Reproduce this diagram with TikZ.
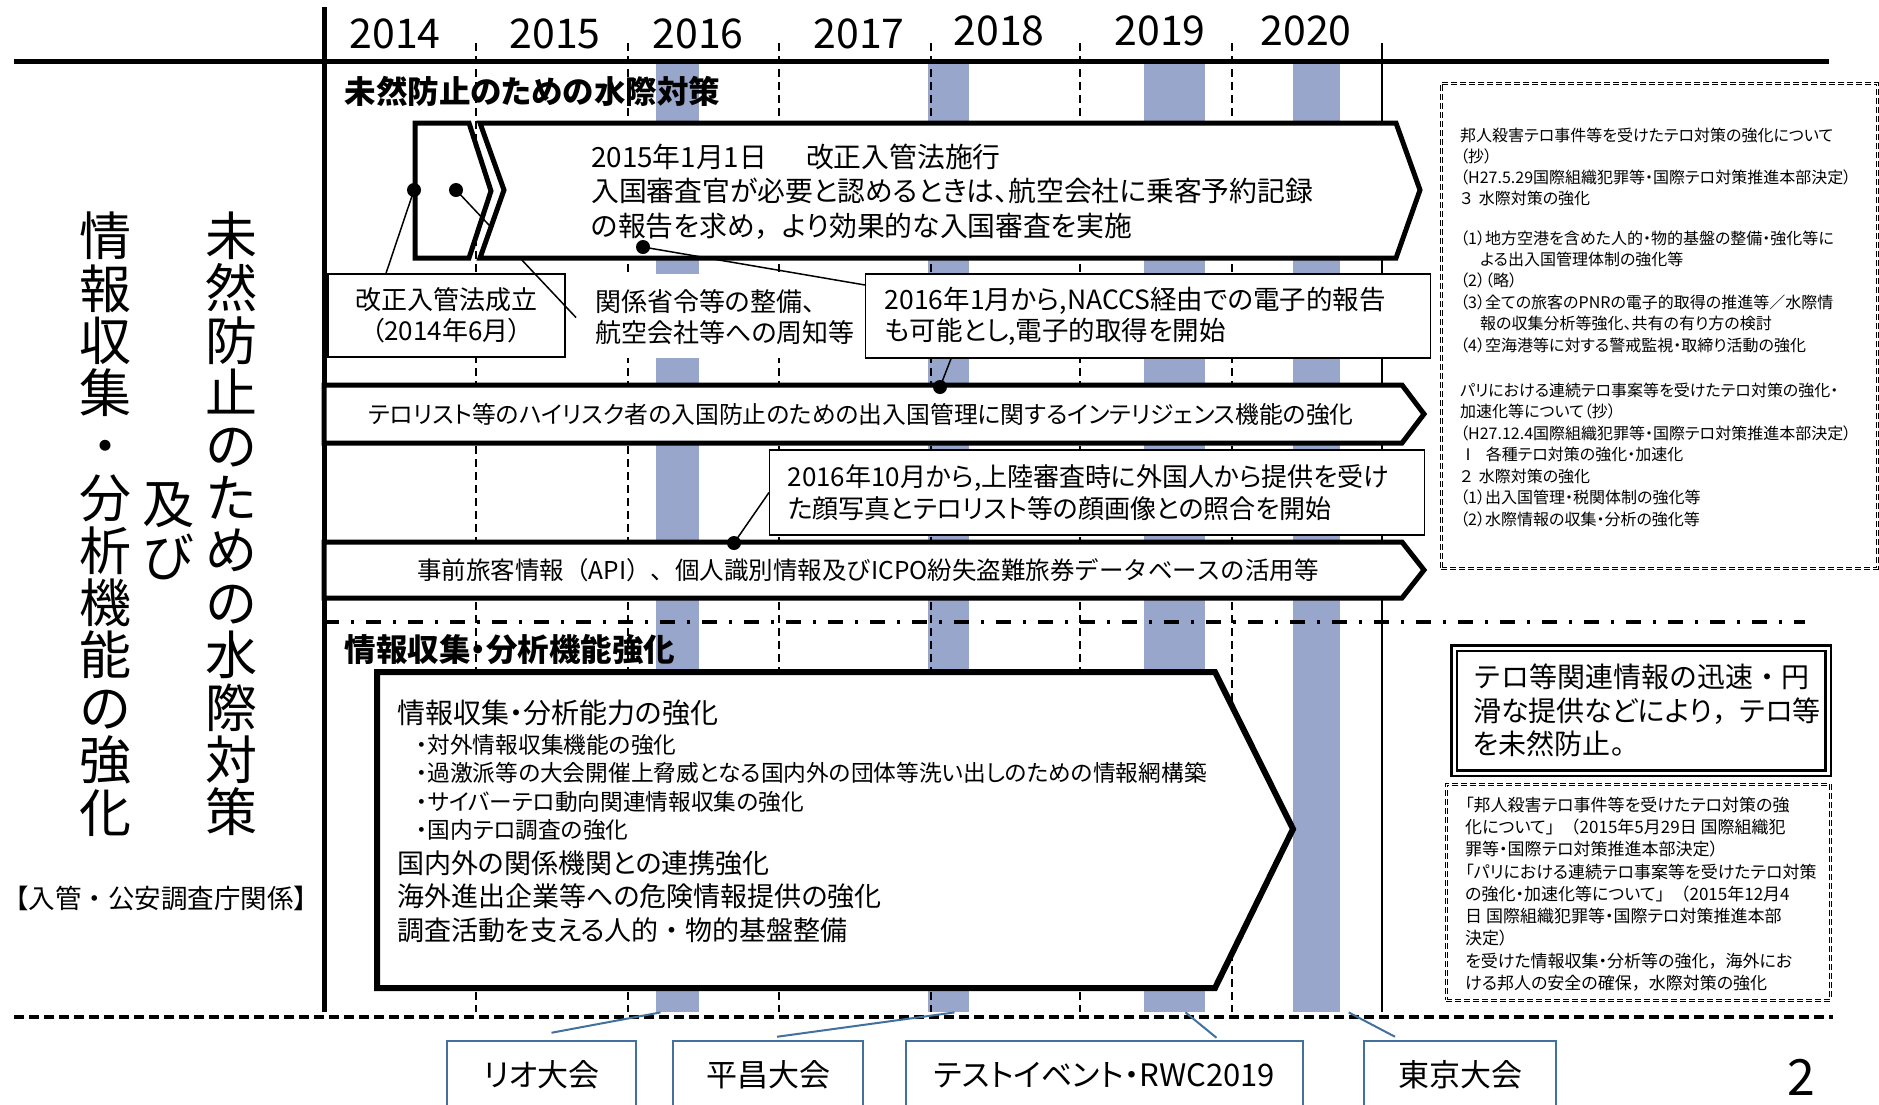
\documentclass[tikz,border=0pt]{standalone}
\usepackage{fontspec}
\setmainfont{Noto Sans CJK JP}[RawFeature=+palt]
\newfontfamily\jpm{Noto Sans CJK JP}
\usetikzlibrary{calc}
\definecolor{hatch}{RGB}{152,166,204}
\definecolor{evblue}{RGB}{65,113,156}
\newcommand\fs[2]{\fontsize{#1}{#2}\selectfont}
\begin{document}
\begin{tikzpicture}[x=1pt,y=-1pt,
  thickshape/.style={draw=black, fill=white, line width=5pt, line join=miter},
  thinbox/.style={draw=black, fill=white, line width=1.4pt},
  yrdash/.style={line width=1.3pt, dash pattern=on 8pt off 5pt},
  col/.style={fill=hatch, draw=none, inner sep=0pt, minimum width=#1, minimum height=948, anchor=north},
  dot/.style={circle, fill=black, inner sep=0pt, minimum size=14pt},
  conn/.style={line width=1.5pt},
  evbox/.style={draw=evblue, line width=2.5pt, fill=white, inner ysep=0pt, text height=45pt, text depth=40pt, anchor=base, font=\fs{31}{31}},
  evline/.style={draw=evblue, line width=2pt},
  ddash/.style={draw, line width=0.7pt, double, double distance=1.6pt, dash pattern=on 6pt off 3pt},
  txt/.style={anchor=west, align=left, inner sep=0pt}
]
\fill[white] (0,0) rectangle (1879,1104);
\useasboundingbox (0,0) rectangle (1879,1104);
\clip (0,0) rectangle (1879,1104);

% hatched year columns
\node[col=43] (c16) at (677.5,64) {};
\node[col=41] (c18) at (948.5,64) {};
\node[col=61] (c19) at (1174.5,64) {};
\node[col=47] (c20) at (1316,64) {};

% year separators
\foreach \x in {476,628,779,931,1080,1232} \draw[yrdash] (\x,43) -- (\x,1012);
\draw[line width=1.5pt] (1382,43) -- (1382,1012);
\draw[line width=5pt] (14,61) -- (1829,61);
\draw[line width=5pt] (324,7) -- (324,1012);

% years
\foreach \x/\y/\t in {395/34/2014, 555/34/2015, 698/34/2016, 859/34/2017, 999/31/2018, 1160/31/2019, 1306/31/2020}
  \node[font=\fs{41}{41}] (y\t) at (\x,\y) {\t};

% section 1
\node[anchor=west, font=\bfseries\fs{31.5}{31.5}] (h1) at (341,91) {未然防止のための水際対策};

\coordinate (p1) at (414,190);
\coordinate (p2) at (456,190);
\coordinate (p3) at (643,247);
\coordinate (p4) at (940,387);
\coordinate (p5) at (734,543);

\node[thinbox, minimum width=237, minimum height=83, align=center, font=\fs{26}{31}] (kaisei) at (446.5,315.5) {改正入管法成立\\（2014年6月）};
\draw[conn] (p1) -- ([xshift=-60.5]kaisei.north);

\draw[thickshape] (415,123) -- (469,123) -- (491,191) -- (469,258) -- (415,258) -- cycle;

\fill[white] (576,274) rectangle (865,358);
\node[txt, font=\fs{26}{31}] (kankei) at (595,317.5) {関係省令等の整備、\\航空会社等への周知等};
\draw[conn] (p2) -- ([xshift=-19]kankei.west);

\draw[thickshape] (480,123) -- (1396,123) -- (1420,190) -- (1396,258) -- (480,258) -- (504,190) -- cycle;
\node[txt, font=\fs{27.8}{34.5}] (a1t) at (591,191.5) {2015年1月1日\hspace{1.4em}改正入管法施行\\入国審査官が必要と認めるときは、航空会社に乗客予約記録\\の報告を求め{\jpm ，}より効果的な入国審査を実施};

\node[thinbox, anchor=west, text width=527, inner xsep=19, inner ysep=0pt, minimum height=84, align=left, font=\fs{26.5}{31}] (b16) at (865,316) {2016年1月から,NACCS経由での電子的報告\\も可能とし,電子的取得を開始};
\draw[conn] (p3) -- ([yshift=31]b16.west);
\draw[conn] ([xshift=86]b16.south west) -- (p4);

\draw[thickshape] (324,385) -- (1402,385) -- (1424,414) -- (1402,443) -- (324,443) -- cycle;
\node[font=\fs{23.8}{23.8}] (a2t) at (861,414) {テロリスト等のハイリスク者の入国防止のための出入国管理に関するインテリジェンス機能の強化};

\node[thinbox, anchor=west, text width=619, inner xsep=18, inner ysep=0pt, minimum height=85, align=left, font=\fs{26}{32}] (b1610) at (769,492.5) {2016年10月から,上陸審査時に外国人から提供を受け\\た顔写真とテロリスト等の顔画像との照合を開始};
\draw[conn] (b1610.west) -- (p5);

\draw[thickshape] (324,542) -- (1402,542) -- (1424,570) -- (1402,598) -- (324,598) -- cycle;
\node[font=\jpm\fs{24.5}{24.5}] (a3t) at (868,570) {事前旅客情報（API）、個人識別情報及びICPO紛失盗難旅券データベースの活用等};

\foreach \p in {p1,p2,p3,p4,p5} \node[dot] (d\p) at (\p) {};

% divider
\draw[line width=3.5pt, dash pattern=on 15pt off 12pt on 3pt off 12pt] (324,622) -- (1805,622);

% section 2
\node[anchor=west, font=\bfseries\fs{31.5}{31.5}] (h2) at (341,650) {情報収集・分析機能強化};
\draw[thickshape, line width=6pt] (377,672) -- (1215,672) -- (1293,829) -- (1215,988) -- (377,988) -- cycle;
\node[txt, font=\fs{28}{28}] (i1) at (397,713) {情報収集・分析能力の強化};
\node[txt, font=\fs{22.7}{28.4}] (i2) at (416,787.5) {・対外情報収集機能の強化\\・過激派等の大会開催上脅威となる国内外の団体等洗い出しのための情報網構築\\・サイバーテロ動向関連情報収集の強化\\・国内テロ調査の強化};
\node[txt, font=\fs{27}{33.5}] (i3) at (397,896.5) {国内外の関係機関との連携強化\\海外進出企業等への危険情報提供の強化\\調査活動を支える人的{\jpm ・}物的基盤整備};

% right boxes
\node[ddash, minimum width=436, minimum height=485, anchor=north west, inner sep=0pt] (r1) at (1441,83) {};
\node[txt, font=\fs{16}{21}] (r1a) at (1460,166.5) {邦人殺害テロ事件等を受けたテロ対策の強化について\\（抄）\\（H27.5.29国際組織犯罪等・国際テロ対策推進本部決定）\\３\hspace{0.4em}水際対策の強化};
\node[txt, font=\fs{16}{21.4}] (r1b) at (1460,291.5) {（1）地方空港を含めた人的・物的基盤の整備・強化等に\\\hspace{1.25em}よる出入国管理体制の強化等\\（2）（略）\\（3）全ての旅客のPNRの電子的取得の推進等／水際情\\\hspace{1.25em}報の収集分析等強化、共有の有り方の検討\\（4）空海港等に対する警戒監視・取締り活動の強化};
\node[txt, font=\fs{16}{21.5}] (r1c) at (1460,454.5) {パリにおける連続テロ事案等を受けたテロ対策の強化・\\加速化等について（抄）\\（H27.12.4国際組織犯罪等・国際テロ対策推進本部決定）\\Ⅰ\hspace{0.6em}各種テロ対策の強化・加速化\\２\hspace{0.4em}水際対策の強化\\（1）出入国管理・税関体制の強化等\\（2）水際情報の収集・分析の強化等};

\node[draw, line width=2.5pt, double, double distance=3pt, fill=white, minimum height=125, text width=336, inner xsep=19, align=left, font=\fs{28}{33.5}] (r2) at (1641,710.5) {{\jpm テロ等関連情報の迅速・円}\\滑な提供などにより{\jpm ，}テロ等\\を未然防止。};

\node[ddash, minimum width=384, minimum height=216, anchor=north west, inner sep=0pt] (r3) at (1446,784) {};
\node[txt, font=\fs{17}{22.25}] (r3t) at (1465,894) {「邦人殺害テロ事件等を受けたテロ対策の強\\化について{\jpm 」（}2015年5月29日 国際組織犯\\罪等・国際テロ対策推進本部決定）\\「パリにおける連続テロ事案等を受けたテロ対策\\の強化・加速化等について{\jpm 」（}2015年12月4\\日 国際組織犯罪等・国際テロ対策推進本部\\決定）\\を受けた情報収集・分析等の強化{\jpm ，}海外にお\\ける邦人の安全の確保{\jpm ，}水際対策の強化};

% bottom
\draw[line width=4pt, dash pattern=on 10pt off 5pt] (14,1017) -- (1833,1017);
\node[evbox, minimum width=189] (rio) at (541.5,1086) {リオ大会};
\node[evbox, minimum width=190] (pc) at (768,1086) {平昌大会};
\node[evbox, minimum width=397] (te) at (1104.5,1086) {テストイベント・RWC2019};
\node[evbox, minimum width=192] (tk) at (1460,1086) {東京大会};
\draw[evline] ([xshift=-17]c16.south) -- ([xshift=10,yshift=7]rio.north);
\draw[evline] ([xshift=6]c18.south) -- ([xshift=9,yshift=3]pc.north);
\draw[evline] ([xshift=11]c19.south) -- ([xshift=112,yshift=2]te.north);
\draw[evline] ([xshift=9]c20.south east) -- ([xshift=-65,yshift=3]tk.north);

% left titles
\node[font=\jpm\fs{52}{52.4}, align=center, inner sep=0pt] (v1) at (231,524) {未\\然\\防\\止\\の\\た\\め\\の\\水\\際\\対\\策};
\node[font=\jpm\fs{52}{52.4}, align=center, inner sep=0pt] (v2) at (105,524) {情\\報\\収\\集\\・\\分\\析\\機\\能\\の\\強\\化};
\node[font=\jpm\fs{52}{53}, align=center, inner sep=0pt] (v3) at (168,531.5) {及\\び};
\node[font=\jpm\fs{26.5}{26.5}, inner sep=0pt] (v4) at (161,898) {【入管・公安調査庁関係】};
\node[font=\fs{50}{50}] (pg) at (1801,1077) {2};
\end{tikzpicture}
\end{document}
